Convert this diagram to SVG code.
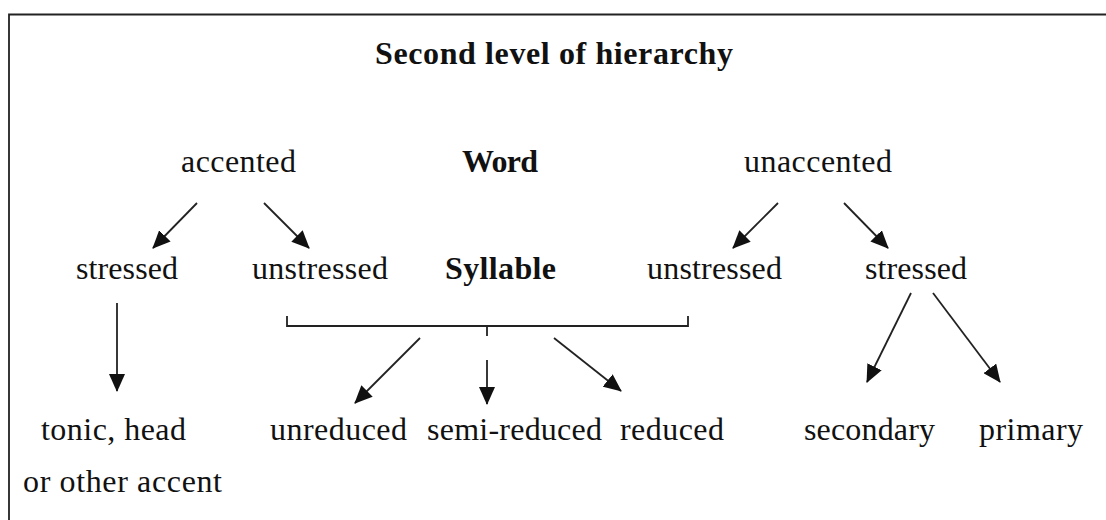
<svg xmlns="http://www.w3.org/2000/svg" width="1106" height="520" viewBox="0 0 1106 520">
<defs>
<style>
text{font-family:"Liberation Serif","DejaVu Serif",serif;font-size:32px;fill:#111;}
.b{font-weight:bold;}
.ln{stroke:#222;stroke-width:1.8;fill:none;}
.ar{stroke:#222;stroke-width:1.8;fill:none;marker-end:url(#ah);}
</style>
<marker id="ah" markerUnits="userSpaceOnUse" markerWidth="18" markerHeight="16" viewBox="0 0 18 16" refX="17" refY="8" orient="auto">
<path d="M0,0 L18,8 L0,16 Z" fill="#111"/>
</marker>
</defs>
<rect x="0" y="0" width="1106" height="520" fill="#fff"/>
<path d="M9,530 L9,14.5 L1110,14.5" class="ln" stroke-width="2"/>
<g id="title"><text class="b" x="375" y="64" font-size="29" textLength="358">Second level of hierarchy</text></g>
<g id="accented"><text x="181" y="172" textLength="115">accented</text></g>
<g id="word"><text class="b" x="462" y="172" textLength="76">Word</text></g>
<g id="unaccented"><text x="744" y="172" textLength="148">unaccented</text></g>
<g id="stressed1"><text x="76" y="279" textLength="102">stressed</text></g>
<g id="unstressed1"><text x="252" y="279" textLength="136">unstressed</text></g>
<g id="syllable"><text class="b" x="445" y="279" textLength="111">Syllable</text></g>
<g id="unstressed2"><text x="647" y="279" textLength="135">unstressed</text></g>
<g id="stressed2"><text x="865" y="279" textLength="102">stressed</text></g>
<g id="tonic"><text x="41" y="440" textLength="145">tonic, head</text><text x="23" y="492" textLength="199">or other accent</text></g>
<g id="unreduced"><text x="270" y="440" textLength="137">unreduced</text></g>
<g id="semireduced"><text x="427" y="440" textLength="175">semi-reduced</text></g>
<g id="reduced"><text x="620" y="440" textLength="104">reduced</text></g>
<g id="secondary"><text x="804" y="440" textLength="131">secondary</text></g>
<g id="primary"><text x="979" y="440" textLength="104">primary</text></g>
<g id="connectors">
<line class="ar" x1="197" y1="203" x2="153" y2="248"/>
<line class="ar" x1="264" y1="203" x2="309" y2="248"/>
<line class="ar" x1="778" y1="203" x2="733" y2="248"/>
<line class="ar" x1="844" y1="203" x2="888" y2="248"/>
<line class="ar" x1="911" y1="293" x2="867" y2="382"/>
<line class="ar" x1="933" y1="293" x2="1000" y2="382"/>
<line class="ar" x1="117" y1="303" x2="117" y2="391"/>
<path class="ln" d="M287,316 L287,326 L688,326 L688,316 M487,326 L487,336"/>
<line class="ar" x1="420" y1="338" x2="355" y2="403"/>
<line class="ar" x1="487" y1="360" x2="487" y2="404"/>
<line class="ar" x1="554" y1="338" x2="621" y2="391"/>
</g>
</svg>
